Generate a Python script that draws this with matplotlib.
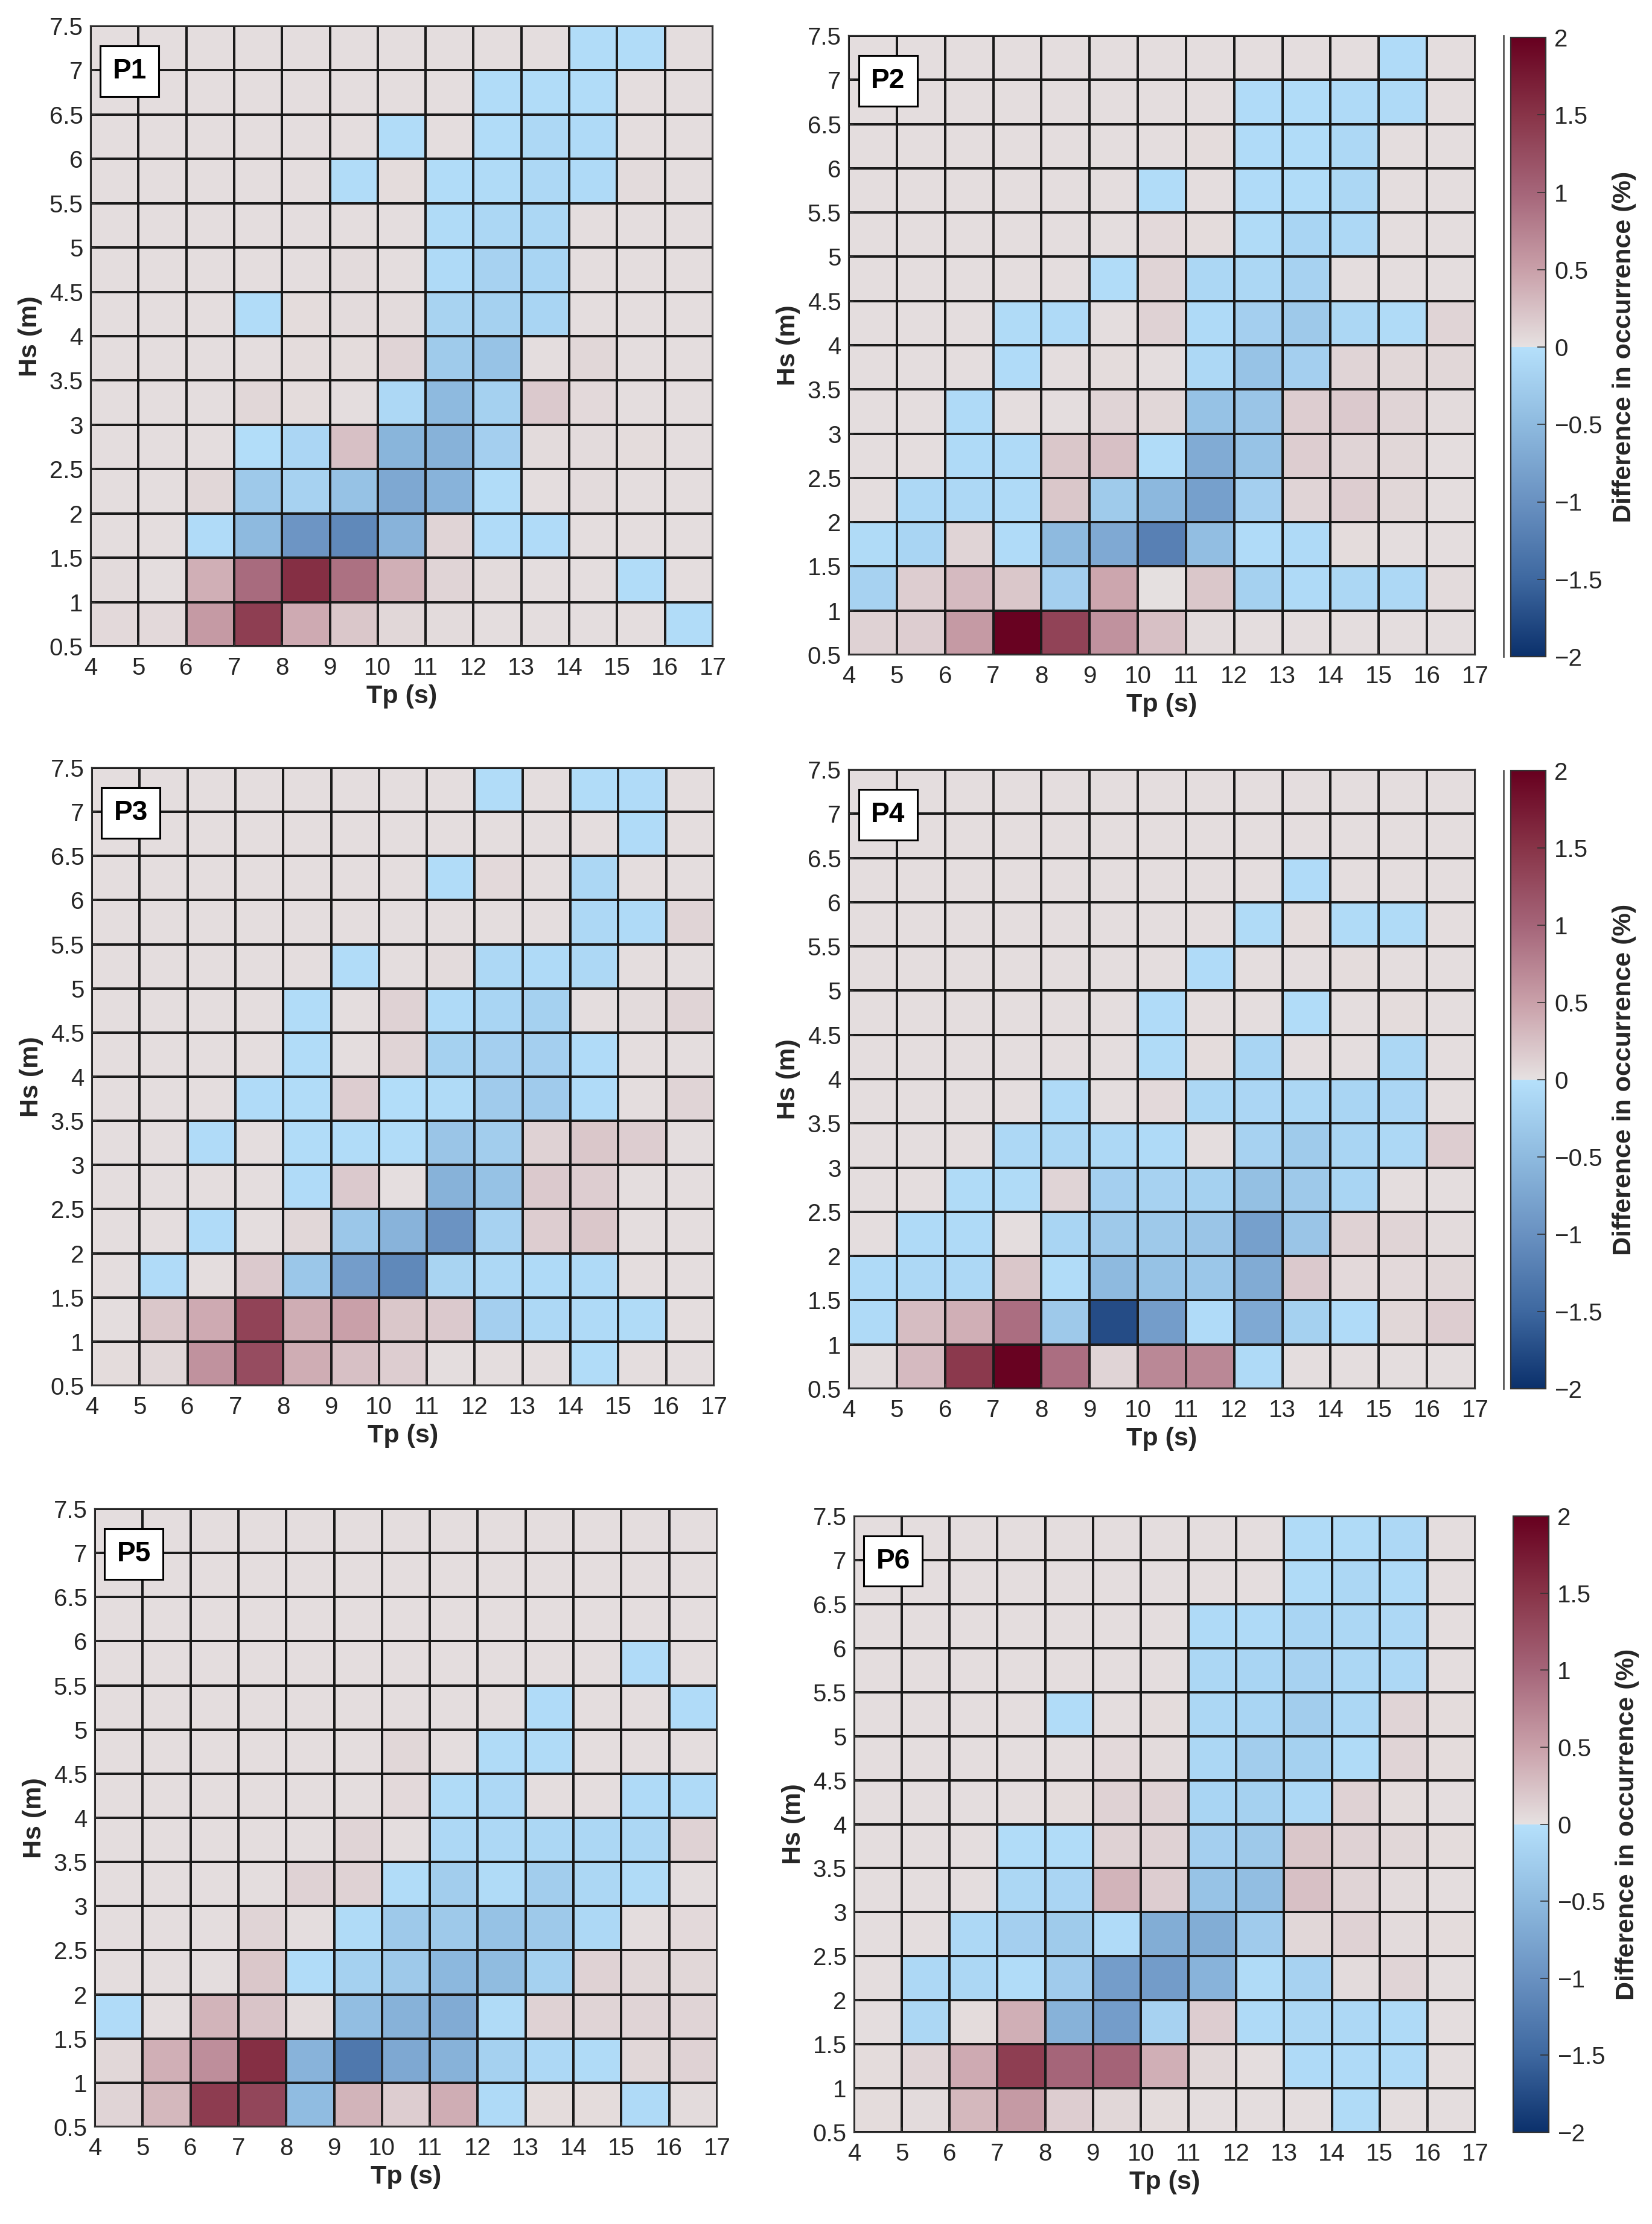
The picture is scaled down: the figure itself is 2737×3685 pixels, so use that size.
import numpy as np
import matplotlib
matplotlib.use('Agg')
import matplotlib.pyplot as plt
from matplotlib.colors import LinearSegmentedColormap, Normalize
from matplotlib.patches import Rectangle
from matplotlib.ticker import FuncFormatter
from matplotlib.cm import ScalarMappable

plt.rcParams['font.family'] = ['Liberation Sans Narrow', 'Liberation Sans', 'DejaVu Sans']

# ---------------- data ----------------
tp_edges = [4, 5, 6, 7, 8, 9, 10, 11, 12, 13, 14, 15, 16, 17]
hs_edges = [0.5, 1, 1.5, 2, 2.5, 3, 3.5, 4, 4.5, 5, 5.5, 6, 6.5, 7, 7.5]
tp_ticks = [4, 5, 6, 7, 8, 9, 10, 11, 12, 13, 14, 15, 16, 17]
hs_ticks = [0.5, 1, 1.5, 2, 2.5, 3, 3.5, 4, 4.5, 5, 5.5, 6, 6.5, 7, 7.5]
cb_ticks = [-2, -1.5, -1, -0.5, 0, 0.5, 1, 1.5, 2]
panel_names = ['P1', 'P2', 'P3', 'P4', 'P5', 'P6']

# rows listed from top (Hs 7-7.5) to bottom (Hs 0.5-1); columns Tp 4-5 ... 16-17
p1 = [
    [.03, .03, .03, .03, .03, .03, .03, .03, .03, .03, -.05, -.05, .03],
    [.03, .03, .03, .03, .03, .03, .03, .03, -.05, -.05, -.05, .03, .03],
    [.03, .03, .03, .03, .03, .03, -.05, .03, -.05, -.10, -.08, .03, .03],
    [.03, .03, .03, .03, .03, -.05, .04, -.05, -.07, -.10, -.08, .05, .03],
    [.03, .03, .03, .03, .03, .03, .03, -.07, -.12, -.12, .03, .03, .03],
    [.03, .03, .03, .03, .03, .05, .03, -.08, -.18, -.15, .03, .03, .03],
    [.03, .03, .03, -.05, .04, .05, .05, -.17, -.20, -.15, .03, .03, .03],
    [.03, .03, .03, .03, .04, .04, .10, -.28, -.38, .03, .08, .03, .03],
    [.03, .03, .03, .08, .04, .03, -.10, -.50, -.20, .18, .06, .03, .03],
    [.03, .03, .03, -.04, -.13, .25, -.56, -.60, -.22, .05, .05, .04, .03],
    [.03, .03, .08, -.30, -.18, -.40, -.72, -.58, -.05, .03, .05, .03, .03],
    [.03, .03, -.06, -.50, -.95, -1.10, -.58, .10, -.06, -.06, .03, .03, .03],
    [.05, .03, .38, .95, 1.55, .90, .38, .10, .05, .03, .03, -.05, .03],
    [.06, .06, .55, 1.40, .42, .20, .08, .05, .03, .03, .03, .03, -.05],
]
p2 = [
    [.03, .03, .03, .03, .03, .03, .03, .03, .03, .03, .03, -.06, .03],
    [.03, .03, .03, .03, .03, .03, .03, .03, -.06, -.05, -.08, -.08, .03],
    [.03, .03, .03, .03, .03, .03, .03, .04, -.06, -.05, -.10, .03, .03],
    [.03, .03, .03, .03, .03, .03, -.05, .03, -.06, -.05, -.12, .03, .03],
    [.03, .03, .03, .03, .03, .03, .06, .04, -.07, -.15, -.10, .03, .03],
    [.03, .03, .03, .03, .03, -.05, .10, -.12, -.12, -.18, .03, .03, .03],
    [.03, .03, .03, -.07, -.08, .03, .12, -.08, -.22, -.30, -.12, -.07, .10],
    [.03, .03, .03, -.06, .03, .04, .03, -.10, -.38, -.22, .10, .08, .08],
    [.03, .03, -.08, .03, .03, .10, .08, -.40, -.35, .15, .18, .10, .05],
    [.03, .03, -.08, -.08, .20, .25, -.05, -.68, -.38, .15, .10, .08, .03],
    [.03, -.10, -.10, -.08, .20, -.28, -.52, -.82, -.22, .10, .15, .08, .03],
    [-.07, -.15, .10, -.06, -.50, -.70, -1.20, -.45, -.06, -.08, .04, .03, .03],
    [-.18, .15, .30, .20, -.22, .45, .01, .20, -.20, -.08, -.12, -.10, .05],
    [.12, .15, .55, 1.98, 1.35, .62, .25, .05, .03, .03, .03, .03, .03],
]
p3 = [
    [.03, .03, .03, .03, .03, .03, .03, .03, -.05, .03, -.05, -.06, .03],
    [.03, .03, .03, .03, .03, .03, .03, .03, .03, .03, .03, -.06, .03],
    [.03, .03, .03, .03, .03, .03, .03, -.05, .06, .03, -.12, .03, .03],
    [.03, .03, .03, .03, .03, .03, .03, .03, .03, .03, -.10, -.08, .10],
    [.03, .03, .03, .03, .03, -.05, .03, .05, -.10, -.08, -.10, .03, .03],
    [.03, .03, .03, .03, -.05, .03, .12, -.08, -.15, -.20, .03, .05, .10],
    [.03, .03, .03, .03, -.05, .03, .10, -.20, -.22, -.22, -.06, .03, .03],
    [.03, .03, .03, -.06, -.05, .15, -.04, -.07, -.27, -.27, -.06, .03, .10],
    [.03, .03, -.06, .03, -.05, -.05, -.05, -.35, -.25, .12, .20, .15, .03],
    [.03, .03, .03, .03, -.06, .18, .02, -.60, -.40, .18, .15, .03, .03],
    [.03, .03, -.06, .03, .08, -.33, -.58, -.98, -.18, .15, .20, .03, .03],
    [.03, -.06, .03, .18, -.33, -.85, -1.10, -.16, -.10, -.08, -.08, .03, .03],
    [.03, .20, .42, 1.35, .40, .50, .20, .18, -.22, -.10, -.08, -.07, .03],
    [.04, .08, .62, 1.25, .40, .25, .15, .03, .03, .03, -.05, .03, .03],
]
p4 = [
    [.03, .03, .03, .03, .03, .03, .03, .03, .03, .03, .03, .03, .03],
    [.03, .03, .03, .03, .03, .03, .03, .03, .03, .03, .03, .03, .03],
    [.03, .03, .03, .03, .03, .03, .03, .03, .03, -.06, .03, .03, .03],
    [.03, .03, .03, .03, .03, .03, .03, .03, -.07, .04, -.07, -.07, .03],
    [.03, .03, .03, .03, .03, .03, .03, -.06, .03, .03, .04, .03, .03],
    [.03, .03, .03, .03, .03, .03, -.06, .03, .03, -.05, .03, .04, .03],
    [.03, .03, .03, .03, .03, .03, -.07, .04, -.15, .03, .03, -.12, .03],
    [.03, .03, .03, .03, -.08, .03, .06, -.12, -.13, -.12, -.15, -.13, .03],
    [.03, .03, .03, -.10, -.12, -.10, -.08, .03, -.18, -.28, -.15, -.10, .15],
    [.03, .03, -.07, -.07, .10, -.22, -.18, -.20, -.42, -.30, -.15, .03, .03],
    [.03, -.08, -.08, .03, -.15, -.30, -.30, -.35, -.82, -.35, .12, .10, .05],
    [-.08, -.10, -.10, .20, -.05, -.50, -.40, -.33, -.68, .18, .06, .06, .08],
    [-.08, .28, .38, .92, -.30, -1.75, -.85, -.06, -.70, -.20, -.06, .08, .15],
    [.05, .30, 1.45, 1.98, .92, .10, .70, .70, -.08, .03, .03, .03, .03],
]
p5 = [
    [.03, .03, .03, .03, .03, .03, .03, .03, .03, .03, .03, .03, .03],
    [.03, .03, .03, .03, .03, .03, .03, .03, .03, .03, .03, .03, .03],
    [.03, .03, .03, .03, .03, .03, .03, .03, .03, .03, .03, .03, .03],
    [.03, .03, .03, .03, .03, .03, .03, .03, .03, .03, .03, -.06, .03],
    [.03, .03, .03, .03, .03, .03, .03, .03, .03, -.06, .03, .03, -.06],
    [.03, .03, .03, .03, .03, .03, .08, .03, -.07, -.07, .03, .03, .03],
    [.03, .03, .03, .03, .03, .03, .06, -.07, -.10, .03, .03, -.08, -.08],
    [.03, .03, .03, .03, .03, .10, .03, -.10, -.10, -.12, -.12, -.12, .12],
    [.03, .03, .03, .03, .12, .12, -.05, -.25, -.07, -.25, -.12, -.07, .03],
    [.03, .03, .03, .10, .03, -.07, -.30, -.30, -.40, -.30, -.10, .03, .06],
    [.03, .03, .03, .20, -.05, -.20, -.30, -.52, -.48, -.20, .12, .08, .08],
    [-.06, .03, .35, .22, .05, -.45, -.60, -.68, -.07, .12, .10, .10, .10],
    [.08, .38, .65, 1.55, -.58, -1.30, -.72, -.60, -.20, -.10, -.07, .08, .12],
    [.10, .32, 1.42, 1.32, -.47, .35, .15, .40, -.08, .04, .04, -.08, .05],
]
p6 = [
    [.03, .03, .03, .03, .03, .03, .03, .03, .03, -.07, -.07, -.10, .03],
    [.03, .03, .03, .03, .03, .03, .03, .03, .03, -.07, -.12, -.08, .03],
    [.03, .03, .03, .03, .03, .03, .03, -.08, -.08, -.15, -.12, -.10, .03],
    [.03, .03, .03, .03, .03, .03, .03, -.12, -.15, -.18, -.12, -.10, .03],
    [.03, .03, .03, .03, -.05, .03, .04, -.12, -.15, -.25, -.12, .10, .04],
    [.03, .03, .03, .03, .03, .06, .05, -.12, -.25, -.20, -.07, .10, .04],
    [.03, .03, .03, .03, .04, .12, .12, -.15, -.20, -.10, .12, .04, .03],
    [.03, .03, .03, -.05, -.05, .12, .12, -.22, -.30, .20, .12, .08, .04],
    [.03, .03, .03, -.12, -.14, .35, .15, -.38, -.45, .25, .10, .05, .03],
    [.03, .03, -.10, -.22, -.28, -.06, -.66, -.66, -.27, .08, .12, .05, .04],
    [.03, -.10, -.12, -.05, -.27, -.85, -.87, -.58, -.07, -.18, .05, .10, .03],
    [.03, -.12, .04, .38, -.60, -.85, -.18, .15, -.08, -.12, -.10, -.08, .03],
    [.04, .10, .42, 1.40, 1.00, 1.02, .38, .08, .03, -.08, -.08, -.08, .03],
    [.04, .05, .32, .55, .15, .08, .04, .03, .03, .03, -.07, .03, .03],
]
panels = [p1, p2, p3, p4, p5, p6]

# ---------------- colormap (discontinuous at 0) ----------------
cmap = LinearSegmentedColormap.from_list('diffmap', [
    (0.0, '#0b306b'), (0.125, '#3e68a0'), (0.25, '#6991c1'), (0.375, '#8ebadf'),
    (0.4999, '#b5e0fb'), (0.5001, '#e6e1e1'), (0.625, '#c9a0a9'), (0.75, '#a56579'),
    (0.875, '#883448'), (1.0, '#67001f')], N=1024)
norm = Normalize(vmin=-2, vmax=2)

W, H = 2737, 3685
fig = plt.figure(figsize=(W / 100, H / 100), dpi=100)
fig.patch.set_facecolor('white')


def rect(l, r, t, b):
    return [l / W, 1 - b / H, (r - l) / W, (b - t) / H]


ax_boxes = [
    (150, 1181, 43, 1071),
    (1406, 2444, 59, 1085),
    (152, 1183, 1272, 2296),
    (1406, 2444, 1275, 2301),
    (157, 1188, 2500, 3524),
    (1415, 2444, 2512, 3533),
]
cb_boxes = {1: (2503, 2561, 62, 1088), 3: (2503, 2561, 1277, 2301), 5: (2507, 2566, 2512, 3533)}
line_x = {1: (2491, 59, 1088), 3: (2491, 1277, 2301)}

tick_fs = 29
label_fs = 31
txt_col = '#262626'
fmt = FuncFormatter(lambda v, p: ('%g' % v).replace('-', '\u2212'))

for i, (data, box) in enumerate(zip(panels, ax_boxes)):
    ax = fig.add_axes(rect(*box))
    arr = np.flipud(np.array(data))
    ax.pcolormesh(tp_edges, hs_edges, arr, cmap=cmap, norm=norm,
                  edgecolors='#1a1a1a', linewidth=1.5)
    ax.set_xlim(4, 17)
    ax.set_ylim(0.5, 7.5)
    ax.set_xticks(tp_ticks)
    ax.set_yticks(hs_ticks)
    ax.xaxis.set_major_formatter(fmt)
    ax.yaxis.set_major_formatter(fmt)
    ax.tick_params(direction='in', length=6, width=1.2, labelsize=tick_fs,
                   labelcolor=txt_col, color='#333333')
    ax.tick_params(axis='x', pad=12)
    ax.tick_params(axis='y', pad=9)
    for s in ax.spines.values():
        s.set_linewidth(1.6)
        s.set_color('#333333')
    ax.set_xlabel('Tp (s)', fontsize=label_fs, fontweight='bold', color=txt_col, labelpad=6)
    ax.set_ylabel('Hs (m)', fontsize=label_fs, fontweight='bold', color=txt_col, labelpad=8)
    ax.add_patch(Rectangle((0.016, 0.886), 0.094, 0.082, transform=ax.transAxes,
                           facecolor='white', edgecolor='black', linewidth=2.2,
                           zorder=5, clip_on=False))
    ax.text(0.063, 0.927, panel_names[i], transform=ax.transAxes, ha='center', va='center',
            fontsize=33, fontweight='bold', color='black', zorder=6,
            family=['Liberation Sans', 'DejaVu Sans'])

    if i in cb_boxes:
        cax = fig.add_axes(rect(*cb_boxes[i]))
        cb = fig.colorbar(ScalarMappable(norm=norm, cmap=cmap), cax=cax)
        cb.set_ticks(cb_ticks)
        cb.ax.yaxis.set_major_formatter(fmt)
        cb.ax.tick_params(direction='in', length=10, width=1.2, labelsize=tick_fs,
                          labelcolor=txt_col, color='#333333', pad=10)
        cb.outline.set_linewidth(1.6)
        cb.outline.set_edgecolor('#333333')
        cb.set_label('Difference in occurrence (%)', fontsize=label_fs, fontweight='bold',
                     color=txt_col, labelpad=12)
    if i in line_x:
        x, t, b = line_x[i]
        fig.add_artist(plt.Line2D([x / W, x / W], [1 - t / H, 1 - b / H],
                                  transform=fig.transFigure, color='#555555', linewidth=2))

fig.savefig('out.png', dpi=100, facecolor='white')
